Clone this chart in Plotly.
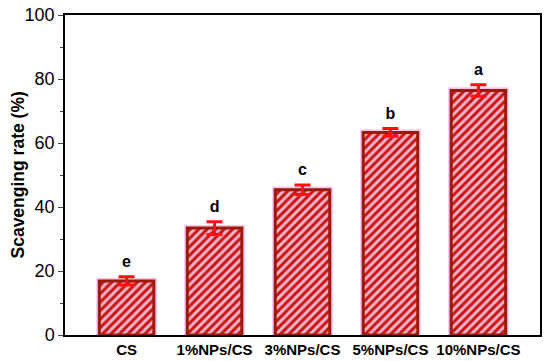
import plotly.graph_objects as go

groups = ["CS", "1%NPs/CS", "3%NPs/CS", "5%NPs/CS", "10%NPs/CS"]
rate = [16.9, 33.4, 45.4, 63.3, 76.4]
err = [1.3, 2.0, 1.5, 1.2, 1.8]
letters = ["e", "d", "c", "b", "a"]

fig = go.Figure()

# soft pink halo behind each bar
fig.add_trace(go.Bar(x=groups, y=[v + 1.0 for v in rate], width=0.69,
                     marker=dict(color="#f9c6ef", line=dict(width=0)),
                     hoverinfo="skip", showlegend=False))

fig.add_trace(go.Bar(
    x=groups, y=rate, width=0.62,
    marker=dict(color="#f7a9c4",
                line=dict(color="#9c1a08", width=3),
                pattern=dict(shape="/", fgcolor="#c81414", bgcolor="#f8b2ca",
                             size=6, solidity=0.5, fillmode="replace")),
    error_y=dict(type="data", array=err, color="#ff1010", thickness=3, width=8),
    showlegend=False))

fig.add_trace(go.Scatter(
    x=groups, y=[v + e + 4.2 for v, e in zip(rate, err)], mode="text",
    text=["<b>%s</b>" % t for t in letters],
    textfont=dict(family="Liberation Sans", size=16, color="black"),
    showlegend=False, hoverinfo="skip"))

fig.update_layout(
    width=550, height=361, barmode="overlay",
    margin=dict(l=65, r=10, t=15, b=26),
    plot_bgcolor="white", paper_bgcolor="white",
    font=dict(family="Liberation Sans", color="black"),
)
# y title as an annotation so it can sit a bit closer to the tick labels
fig.add_annotation(text="<b>Scavenging rate (%)</b>", textangle=-90,
                   xref="paper", yref="paper", x=-0.1, y=0.5,
                   xanchor="center", yanchor="middle", showarrow=False,
                   font=dict(size=17.5, family="Liberation Sans"))
fig.update_xaxes(range=[-0.7, 4.7], showline=True, linecolor="black", linewidth=1.5,
                 mirror=True, ticks="", showgrid=False, automargin=False,
                 tickfont=dict(size=15, family="Liberation Sans", weight="bold"))
fig.update_yaxes(range=[0, 100], dtick=20, showline=True, linecolor="black", linewidth=1.5,
                 mirror=True, ticks="outside", ticklen=5, tickwidth=1.2, showgrid=False,
                 automargin=False,
                 minor=dict(dtick=10, ticks="outside", ticklen=3, tickwidth=1),
                 tickfont=dict(size=18, family="Liberation Sans"))

# page body has an 8px default margin; drop it so the figure sits at the window corner
fig.write_html("out.html", config={"displayModeBar": False},
               post_script="document.body.style.margin='0';")
